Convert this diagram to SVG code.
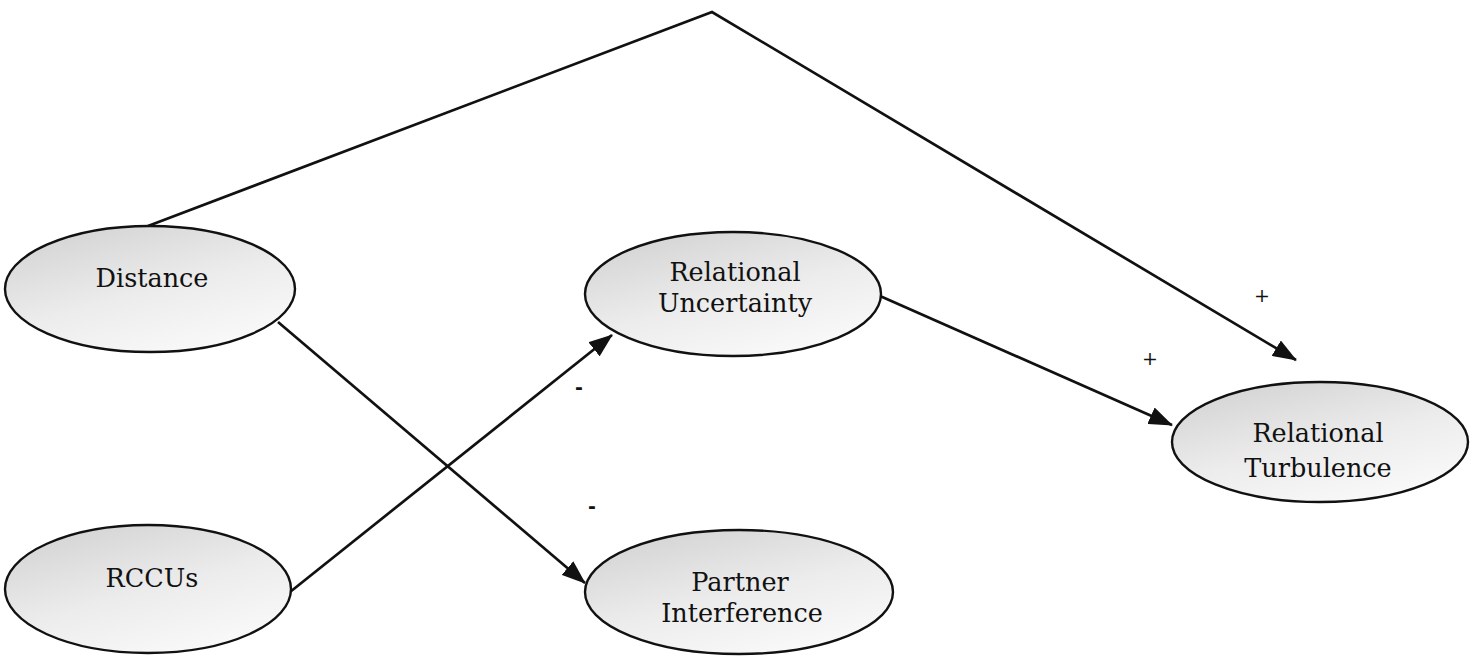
<svg xmlns="http://www.w3.org/2000/svg" width="1476" height="659" viewBox="0 0 1476 659">
<style>
.node ellipse{fill:url(#g);stroke:#111;stroke-width:2.4}
.node text{font-family:"DejaVu Serif","Liberation Serif",serif;font-size:25.5px;fill:#111;text-anchor:middle}
.conn{fill:none;stroke:#111;stroke-width:2.7}
.lbl{font-family:"DejaVu Serif","Liberation Serif",serif;font-size:19px;fill:#111;text-anchor:middle}
.dash{font-family:"DejaVu Sans","Liberation Sans",sans-serif;font-size:19px;font-weight:bold;fill:#111;text-anchor:middle}
</style>
<defs>
<linearGradient id="g" x1="0" y1="0" x2="0.6" y2="1">
<stop offset="0" stop-color="#cfcfcf"/>
<stop offset="0.6" stop-color="#ececec"/>
<stop offset="1" stop-color="#f8f8f8"/>
</linearGradient>
<marker id="ah" viewBox="0 0 24 18" refX="23" refY="9" markerWidth="24" markerHeight="18" markerUnits="userSpaceOnUse" orient="auto">
<path d="M0,0 L24,9 L0,18 Z" fill="#111"/>
</marker>
</defs>
<rect width="1476" height="659" fill="#fff"/>
<g id="connectors">
<polyline class="conn" points="148,226 712,12 1296,360" marker-end="url(#ah)"/>
<line class="conn" x1="278" y1="322" x2="585" y2="583" marker-end="url(#ah)"/>
<line class="conn" x1="290" y1="592" x2="612" y2="335" marker-end="url(#ah)"/>
<line class="conn" x1="880" y1="296" x2="1172" y2="425" marker-end="url(#ah)"/>
</g>
<g id="labels">
<text class="lbl" x="1262" y="302">+</text>
<text class="lbl" x="1150" y="365">+</text>
<text class="dash" x="579" y="394">-</text>
<text class="dash" x="592" y="513">-</text>
</g>
<g id="distance" class="node">
<ellipse cx="150" cy="289" rx="145" ry="63"/>
<text x="152" y="287">Distance</text>
</g>
<g id="rccus" class="node">
<ellipse cx="148" cy="589" rx="143" ry="64"/>
<text x="152" y="587">RCCUs</text>
</g>
<g id="relational-uncertainty" class="node">
<ellipse cx="733" cy="294" rx="148" ry="62"/>
<text x="735" y="281">Relational</text>
<text x="735" y="312">Uncertainty</text>
</g>
<g id="partner-interference" class="node">
<ellipse cx="739" cy="592" rx="154" ry="62"/>
<text x="740" y="591">Partner</text>
<text x="742" y="622">Interference</text>
</g>
<g id="relational-turbulence" class="node">
<ellipse cx="1320" cy="442" rx="148" ry="60"/>
<text x="1318" y="442">Relational</text>
<text x="1318" y="477">Turbulence</text>
</g>
</svg>
